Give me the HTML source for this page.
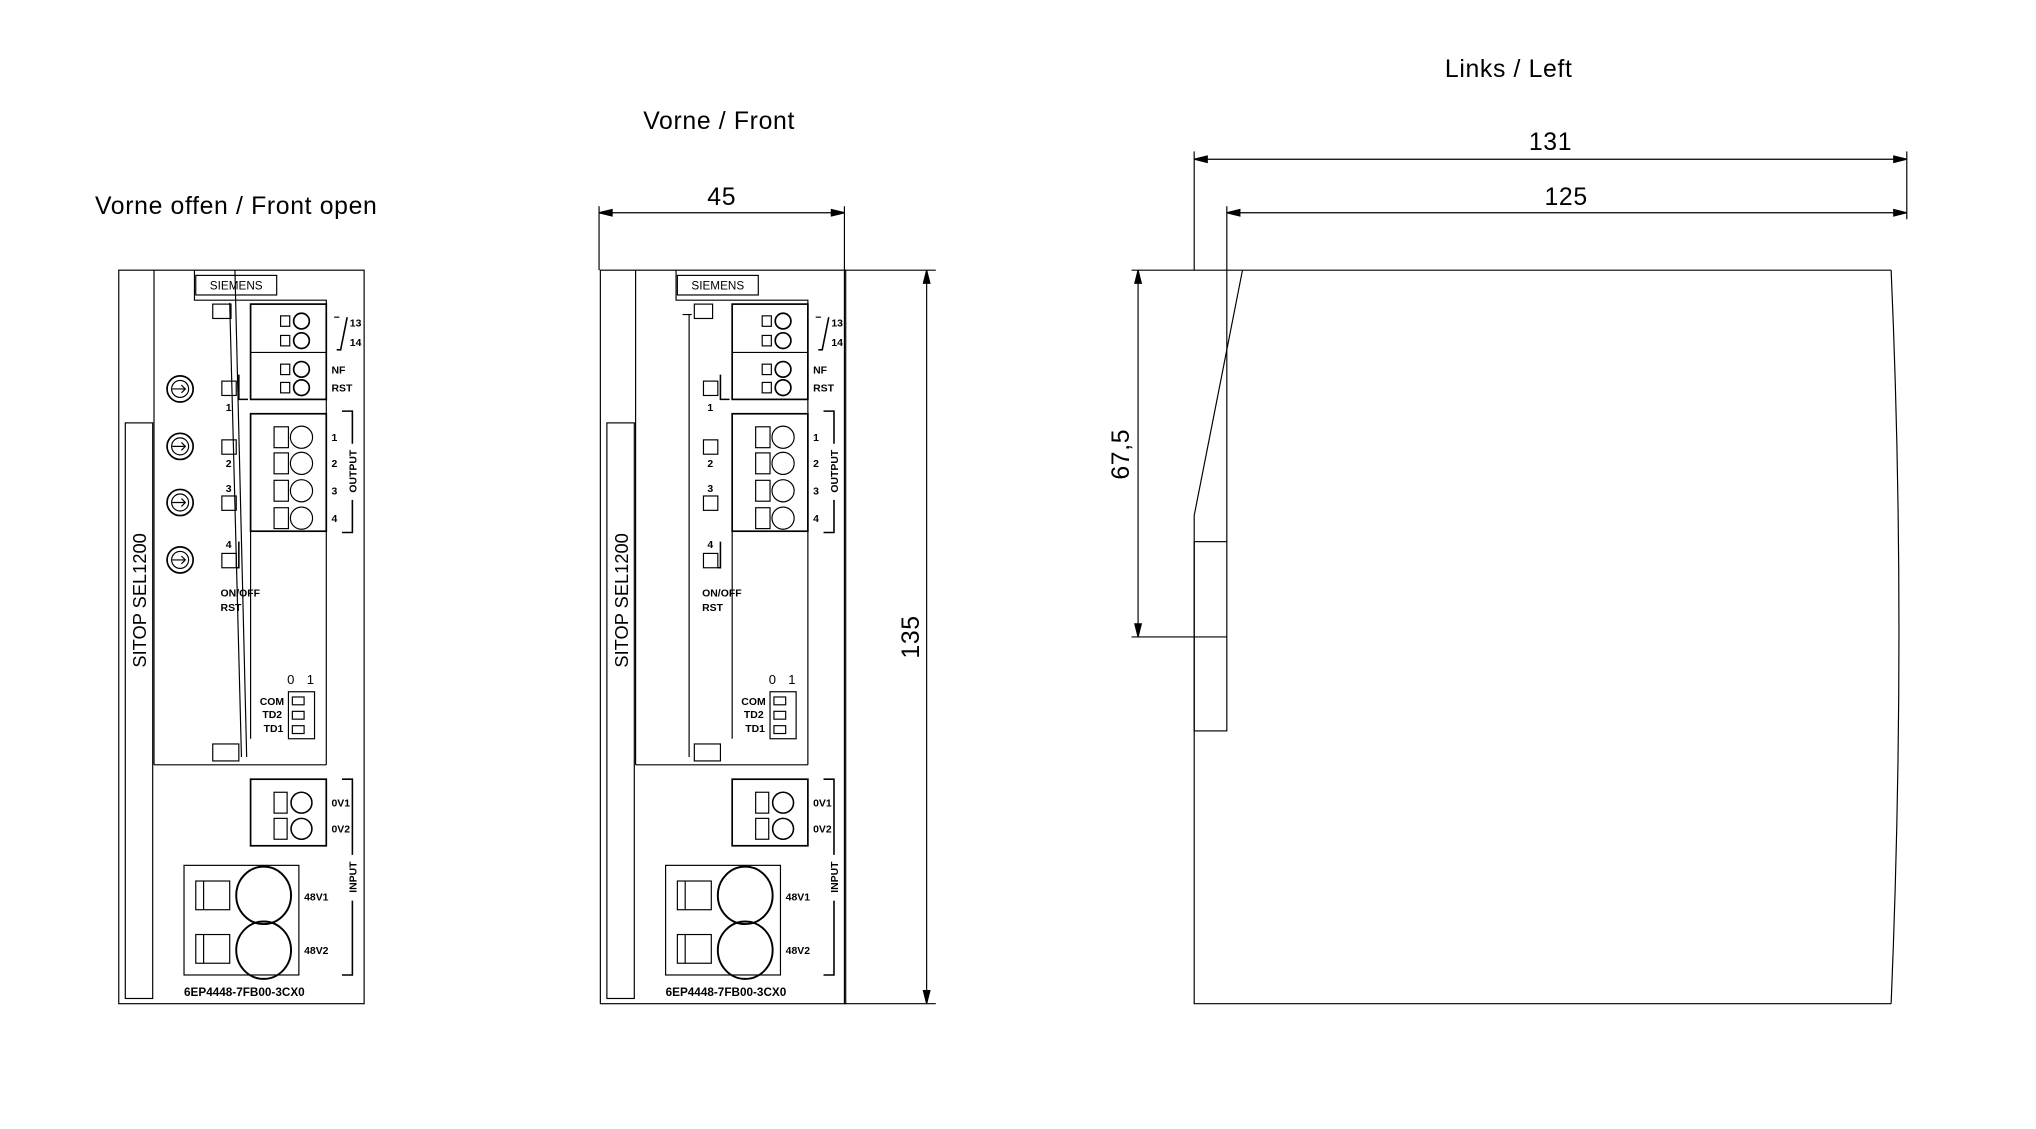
<!DOCTYPE html>
<html><head><meta charset="utf-8"><style>
html,body{margin:0;padding:0;background:#fff;}
svg{display:block;}
text{font-family:"Liberation Sans Narrow","Liberation Sans",sans-serif;fill:#000;}
.t{font-size:19px;letter-spacing:0.5px;}
.s{font-size:8px;font-weight:bold;}
</style></head><body>
<svg width="2036" height="1129" viewBox="0 0 1560 865" preserveAspectRatio="none" xmlns="http://www.w3.org/2000/svg">
<g fill="none" stroke="#000" stroke-width="0.9">

<g id="A">
<rect x="91" y="207" width="188" height="562"/>
<rect x="96" y="324" width="21" height="441"/>
<line x1="118" y1="207" x2="118" y2="586"/>
<line x1="118" y1="586" x2="250" y2="586"/>
<polyline points="149,207 149,230 250,230 250,586"/>
<rect x="150" y="211" width="62" height="15"/>
<rect x="163" y="233" width="14" height="11"/>
<rect x="192" y="233" width="58" height="73" stroke-width="1.3"/>
<line x1="192" y1="270" x2="250" y2="270"/>
<rect x="215" y="242" width="7" height="8"/><circle cx="231" cy="246" r="6" stroke-width="1.3"/>
<rect x="215" y="257" width="7" height="8"/><circle cx="231" cy="261" r="6" stroke-width="1.3"/>
<rect x="215" y="279" width="7" height="8"/><circle cx="231" cy="283" r="6" stroke-width="1.3"/>
<rect x="215" y="293" width="7" height="8"/><circle cx="231" cy="297" r="6" stroke-width="1.3"/>
<polyline points="256,243 260,243" /><polyline points="258,268 261,268 266,243" stroke-width="1.2"/>
<rect x="170" y="292" width="11" height="11"/>
<polyline points="183,287 183,306 190,306" stroke-width="1.2"/>
<rect x="170" y="337" width="11" height="11"/>
<rect x="170" y="380" width="11" height="11"/>
<rect x="170" y="424" width="11" height="11"/>
<polyline points="183,415 183,435 181,435" stroke-width="1.2"/>
<rect x="192" y="317" width="58" height="90" stroke-width="1.3"/>
<rect x="210" y="327" width="11" height="16"/><circle cx="231" cy="335" r="8.5"/>
<rect x="210" y="347" width="11" height="16"/><circle cx="231" cy="355" r="8.5"/>
<rect x="210" y="368" width="11" height="16"/><circle cx="231" cy="376" r="8.5"/>
<rect x="210" y="389" width="11" height="16"/><circle cx="231" cy="397" r="8.5"/>
<polyline points="262,315 270,315 270,340" stroke-width="1.2"/>
<polyline points="262,408 270,408 270,383" stroke-width="1.2"/>
<line x1="192" y1="407" x2="192" y2="566"/>
<rect x="221" y="530" width="20" height="36"/>
<rect x="224" y="534" width="9" height="6"/><rect x="224" y="545" width="9" height="6"/><rect x="224" y="556" width="9" height="6"/>
<rect x="163" y="570" width="20" height="13"/>
<rect x="192" y="597" width="58" height="51" stroke-width="1.3"/>
<rect x="210" y="607" width="10" height="16"/><circle cx="231" cy="615" r="8" stroke-width="1.2"/>
<rect x="210" y="627" width="10" height="16"/><circle cx="231" cy="635" r="8" stroke-width="1.2"/>
<polyline points="262,597 270,597 270,655" stroke-width="1.2"/>
<polyline points="270,690 270,747 262,747" stroke-width="1.2"/>
<rect x="141" y="663" width="88" height="84"/>
<rect x="150" y="675" width="26" height="22"/><line x1="156" y1="675" x2="156" y2="697"/>
<rect x="150" y="716" width="26" height="22"/><line x1="156" y1="716" x2="156" y2="738"/>
<ellipse cx="202" cy="686" rx="21" ry="22" stroke-width="1.5"/>
<ellipse cx="202" cy="728" rx="21" ry="22" stroke-width="1.5"/>
</g>
<line x1="176" y1="232" x2="185" y2="580"/>
<line x1="180" y1="207" x2="189" y2="580"/>
<circle cx="138" cy="298" r="10" stroke-width="1.3"/><circle cx="138" cy="298" r="6.5"/>
<circle cx="138" cy="342" r="10" stroke-width="1.3"/><circle cx="138" cy="342" r="6.5"/>
<circle cx="138" cy="385" r="10" stroke-width="1.3"/><circle cx="138" cy="385" r="6.5"/>
<circle cx="138" cy="429" r="10" stroke-width="1.3"/><circle cx="138" cy="429" r="6.5"/>
<path d="M132,298h10M139,295l3,3l-3,3M132,342h10M139,339l3,3l-3,3M132,385h10M139,382l3,3l-3,3M132,429h10M139,426l3,3l-3,3"/>

<use href="#A" transform="translate(369,0)"/>
<line x1="528" y1="241" x2="528" y2="580"/>
<line x1="523" y1="241" x2="530" y2="241"/>

<line x1="459" y1="158" x2="459" y2="207"/>
<line x1="647" y1="158" x2="647" y2="769"/>
<line x1="459" y1="163" x2="647" y2="163"/>
<path d="M459,163 l10,-2.5 v5z M647,163 l-10,-2.5 v5z" fill="#000"/>
<line x1="647" y1="207" x2="717" y2="207"/>
<line x1="647" y1="769" x2="717" y2="769"/>
<line x1="710" y1="207" x2="710" y2="769"/>
<path d="M710,207 l-2.5,10 h5z M710,769 l-2.5,-10 h5z" fill="#000"/>

<polyline points="952,207 1449,207"/>
<polyline points="952,207 915,395 915,769 1449,769"/>
<path d="M1449,207 Q1461,480 1449,769"/>
<rect x="915" y="415" width="25" height="145"/>
<line x1="915" y1="116" x2="915" y2="207"/>
<line x1="1461" y1="116" x2="1461" y2="168"/>
<line x1="940" y1="158" x2="940" y2="415"/>
<line x1="915" y1="122" x2="1461" y2="122"/>
<path d="M915,122 l10,-2.5 v5z M1461,122 l-10,-2.5 v5z" fill="#000"/>
<line x1="940" y1="163" x2="1461" y2="163"/>
<path d="M940,163 l10,-2.5 v5z M1461,163 l-10,-2.5 v5z" fill="#000"/>
<line x1="867" y1="207" x2="952" y2="207"/>
<line x1="867" y1="488" x2="940" y2="488"/>
<line x1="872" y1="207" x2="872" y2="488"/>
<path d="M872,207 l-2.5,10 h5z M872,488 l-2.5,-10 h5z" fill="#000"/>
</g>

<text class="t" x="181" y="164" text-anchor="middle">Vorne offen / Front open</text>
<text class="t" x="551" y="99" text-anchor="middle">Vorne / Front</text>
<text class="t" x="1156" y="59" text-anchor="middle">Links / Left</text>
<text class="t" x="553" y="157" text-anchor="middle">45</text>
<text class="t" x="1188" y="115" text-anchor="middle">131</text>
<text class="t" x="1200" y="157" text-anchor="middle">125</text>
<text class="t" transform="translate(704,488) rotate(-90)" text-anchor="middle">135</text>
<text class="t" transform="translate(865,348) rotate(-90)" text-anchor="middle">67,5</text>

<g>
<text x="181" y="222" text-anchor="middle" style="font-size:9px">SIEMENS</text>
<text transform="translate(112,460) rotate(-90)" text-anchor="middle" style="font-size:14px;font-family:'Liberation Sans',sans-serif;">SITOP SEL1200</text>
<text class="s" x="268" y="250">13</text><text class="s" x="268" y="265">14</text>
<text class="s" x="254" y="286">NF</text><text class="s" x="254" y="300">RST</text>
<text class="s" x="173" y="315">1</text><text class="s" x="173" y="358">2</text>
<text class="s" x="173" y="377">3</text><text class="s" x="173" y="420">4</text>
<text class="s" x="254" y="338">1</text><text class="s" x="254" y="358">2</text>
<text class="s" x="254" y="379">3</text><text class="s" x="254" y="400">4</text>
<text class="s" transform="translate(273,361) rotate(-90)" text-anchor="middle">OUTPUT</text>
<text class="s" x="169" y="457">ON/OFF</text><text class="s" x="169" y="468">RST</text>
<text x="220" y="524" style="font-size:10px">0</text><text x="235" y="524" style="font-size:10px">1</text>
<text class="s" x="199" y="540">COM</text><text class="s" x="201" y="550">TD2</text><text class="s" x="202" y="561">TD1</text>
<text class="s" x="254" y="618">0V1</text><text class="s" x="254" y="638">0V2</text>
<text class="s" transform="translate(273,672) rotate(-90)" text-anchor="middle">INPUT</text>
<text class="s" x="233" y="690">48V1</text><text class="s" x="233" y="731">48V2</text>
<text class="s" x="141" y="763" style="font-size:9px">6EP4448-7FB00-3CX0</text>
</g>
<g transform="translate(369,0)">
<text x="181" y="222" text-anchor="middle" style="font-size:9px">SIEMENS</text>
<text transform="translate(112,460) rotate(-90)" text-anchor="middle" style="font-size:14px;font-family:'Liberation Sans',sans-serif;">SITOP SEL1200</text>
<text class="s" x="268" y="250">13</text><text class="s" x="268" y="265">14</text>
<text class="s" x="254" y="286">NF</text><text class="s" x="254" y="300">RST</text>
<text class="s" x="173" y="315">1</text><text class="s" x="173" y="358">2</text>
<text class="s" x="173" y="377">3</text><text class="s" x="173" y="420">4</text>
<text class="s" x="254" y="338">1</text><text class="s" x="254" y="358">2</text>
<text class="s" x="254" y="379">3</text><text class="s" x="254" y="400">4</text>
<text class="s" transform="translate(273,361) rotate(-90)" text-anchor="middle">OUTPUT</text>
<text class="s" x="169" y="457">ON/OFF</text><text class="s" x="169" y="468">RST</text>
<text x="220" y="524" style="font-size:10px">0</text><text x="235" y="524" style="font-size:10px">1</text>
<text class="s" x="199" y="540">COM</text><text class="s" x="201" y="550">TD2</text><text class="s" x="202" y="561">TD1</text>
<text class="s" x="254" y="618">0V1</text><text class="s" x="254" y="638">0V2</text>
<text class="s" transform="translate(273,672) rotate(-90)" text-anchor="middle">INPUT</text>
<text class="s" x="233" y="690">48V1</text><text class="s" x="233" y="731">48V2</text>
<text class="s" x="141" y="763" style="font-size:9px">6EP4448-7FB00-3CX0</text>
</g>
</svg>
</body></html>
